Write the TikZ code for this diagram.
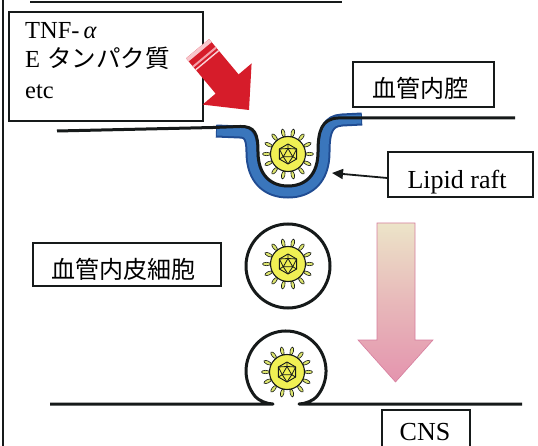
\documentclass[tikz,border=0pt]{standalone}
\usepackage{fontspec}
\setmainfont{Liberation Serif}
\newfontfamily\jp{Noto Sans CJK JP}
\usetikzlibrary{arrows.meta}

\definecolor{raftblue}{RGB}{58,118,188}
\definecolor{raftdark}{RGB}{32,76,146}
\definecolor{capsid}{RGB}{240,240,84}
\definecolor{spike}{RGB}{222,230,110}
\definecolor{redarrow}{RGB}{214,28,42}
\definecolor{redlight}{RGB}{244,160,170}
\definecolor{cream}{RGB}{236,228,200}
\definecolor{rose}{RGB}{228,148,174}
\definecolor{roseline}{RGB}{214,126,158}
\definecolor{ink}{RGB}{22,26,26}

\tikzset{
  labelbox/.style={draw=ink, line width=1.4pt, fill=white, inner sep=0pt},
  jplabel/.style={font=\jp\fontsize{24}{28}\selectfont, inner sep=0pt},
  enlabel/.style={font=\fontsize{26}{30}\selectfont, inner sep=0pt},
  tnflabel/.style={font=\fontsize{24.5}{28}\selectfont, inner sep=0pt, anchor=base west},
  membrane/.style={draw=ink, line width=3pt, line join=round},
  virus/.pic={
    \foreach \a in {0,25.714,...,340} {
      \draw[ink, line width=0.6pt, fill=spike, rotate=\a] (21.5,0) ellipse [x radius=4, y radius=1.7];
    }
    \draw[ink, line width=1.1pt, fill=capsid] (0,0) circle (17.5);
    \draw[ink, line width=0.9pt, line join=round]
      (270:10) -- (330:10) -- (30:10) -- (90:10) -- (150:10) -- (210:10) -- cycle;
    \draw[ink, line width=0.8pt, line join=round] (270:5.5) -- (30:5.5) -- (150:5.5) -- cycle;
    \draw[ink, line width=0.8pt]
      (210:10) -- (270:5.5) -- (330:10)
      (330:10) -- (30:5.5) -- (90:10)
      (90:10) -- (150:5.5) -- (210:10)
      (270:5.5) -- (270:10) (30:5.5) -- (30:10) (150:5.5) -- (150:10);
  }
}

\begin{document}
\begin{tikzpicture}[x=1pt, y=-1pt]
  \useasboundingbox (0,0) rectangle (538,446);
  \clip (0,0) rectangle (538,446);

  % frame lines
  \draw[ink, line width=2pt] (3,-2) -- (3,448);
  \draw[ink, line width=1.5pt] (30,2) -- (342,2);

  % cytokine box
  \node[labelbox, minimum width=194pt, minimum height=109pt] (agents) at (106,66.5) {};
  \node[tnflabel] (tnf) at (25,39) {TNF-\hspace{4pt}\textit{α}};
  \node[tnflabel] (eprot) at (25,68) {E\hspace{7pt}{\jp タンパク質}};
  \node[tnflabel] (etc) at (25,99) {etc};

  % red block arrow, its tail lying over the corner of the box
  \fill[redarrow] (249,110) -- (251.6,63.4) -- (238.6,74.4) -- (209.1,39.1)
    -- (186.1,58.3) -- (215.6,93.6) -- (202.6,104.6) -- cycle;
  \fill[redlight!60!white] (209.1,39.1) -- (211.6,42.2) -- (188.6,61.4) -- (186.1,58.3) -- cycle;
  \draw[redlight, line width=2pt] (216.1,47.5) -- (193.1,66.7);
  \draw[redlight!45!white, line width=1.4pt] (218.7,50.6) -- (195.7,69.8);

  % lipid raft ribbon
  \draw[raftdark, line width=13pt]
    (216,131) -- (240,132) .. controls (249,132) and (252,138) .. (252,152)
    .. controls (252,180) and (268,192) .. (288,192)
    .. controls (308,192) and (324,180) .. (324,152)
    .. controls (324,130) and (328,121) .. (342,120) -- (362,119);
  \draw[raftblue, line width=9pt]
    (217,131) -- (240,132) .. controls (249,132) and (252,138) .. (252,152)
    .. controls (252,180) and (268,192) .. (288,192)
    .. controls (308,192) and (324,180) .. (324,152)
    .. controls (324,130) and (328,121) .. (342,120) -- (361,119);

  % luminal membrane
  \draw[membrane] (57,131) -- (213,127.5) -- (240,126.5)
    .. controls (255,126) and (258,134) .. (258,152)
    .. controls (258,174) and (270,186) .. (288,186)
    .. controls (306,186) and (318,174) .. (318,152)
    .. controls (318,130) and (322,119) .. (338,118) -- (515,118);

  \pic (v1) at (288,154) {virus};

  % vesicle crossing the endothelium
  \draw[ink, line width=3pt] (288,266) circle (42);
  \pic (v2) at (288,264) {virus};

  % abluminal membrane with fusing vesicle
  \draw[membrane] (50,404) -- (273,404)
    .. controls (267,404) and (258.6,400.5) .. (255.4,396.7)
    arc[start angle=140, end angle=400, radius=40]
    .. controls (313.4,400.5) and (305,404) .. (299,404) -- (522,404);
  \pic (v3) at (287,372) {virus};

  % transport arrow
  \shade[top color=cream, bottom color=rose, middle color=rose!55!cream,
         draw=roseline, line width=0.6pt]
    (377,223) -- (415,223) -- (415,340) -- (433,340) -- (395.5,382)
    -- (358,340) -- (377,340) -- cycle;

  % labels
  \node[labelbox, minimum width=141pt, minimum height=45pt] (lumen) at (423.5,84.5) {};
  \node[jplabel, anchor=base] (lumentext) at (420,98) {血管内腔};

  \node[labelbox, minimum width=188pt, minimum height=43pt] (endo) at (127,264.5) {};
  \node[jplabel, anchor=base] (endotext) at (123.5,279) {血管内皮細胞};

  \node[labelbox, minimum width=145pt, minimum height=45pt] (raft) at (460.5,174.5) {};
  \node[enlabel, anchor=base] (rafttext) at (457,189) {Lipid raft};
  \coordinate (rafttip) at (332,173);
  \draw[ink, line width=1.8pt, -{Triangle[length=11pt, width=10pt]}]
    ([yshift=-3.5pt]raft.west) -- (rafttip);

  \node[labelbox, minimum width=88pt, minimum height=60pt] (cns) at (426,440) {};
  \node[enlabel, anchor=base] (cnstext) at (425,440) {CNS};
\end{tikzpicture}
\end{document}
